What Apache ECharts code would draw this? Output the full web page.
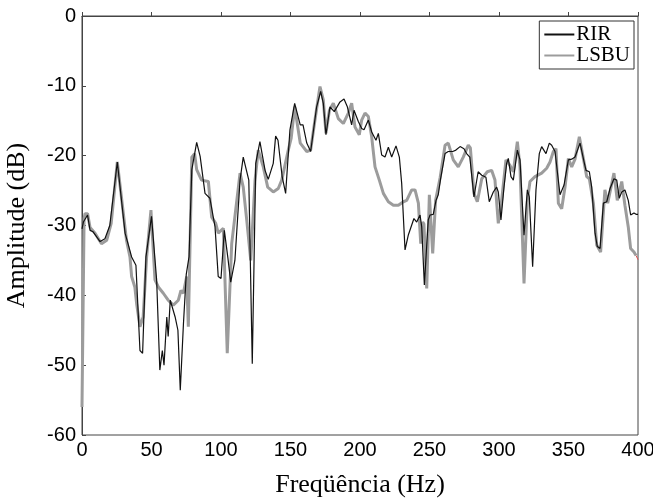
<!DOCTYPE html>
<html>
<head>
<meta charset="utf-8">
<script src="https://cdn.jsdelivr.net/npm/echarts@6/dist/echarts.min.js"></script>
<style>
  html, body { margin: 0; padding: 0; background: #fff; }
  #chart { width: 653px; height: 500px; }
</style>
</head>
<body>
<div id="chart"></div>
<script>
// 频率 / 幅值数据
var rirFreq = [0, 1, 4, 5.8, 8, 13, 16.5, 20, 25.4, 31, 35.7, 38.8, 41.7, 43.6, 46, 50, 53.7, 56, 57.8, 59,
  61, 62, 63.5, 67, 69, 70.7, 73, 75, 77, 79, 82.5, 85, 88.5, 92, 95.7, 98, 100, 102.4, 105, 107,
  110, 113.7, 116, 117, 120, 122.5, 125, 128, 131.7, 134, 137.6, 139.3, 141, 144, 146.5, 149.6, 153, 157, 159, 161.7,
  164.5, 168.8, 171.7, 173.6, 175.5, 178.4, 181.5, 185.6, 188.5, 190.9, 194, 195.7, 198.8, 201.2, 202.9, 206, 208.4, 211.5, 213.2, 215.6,
  218, 220.4, 222.8, 225.9, 228.3, 230, 232.4, 234.7, 238.8, 240.8, 243.2, 244.4, 246.3, 249.1, 250.4, 252.7, 254.7, 256.3, 258, 261.2,
  263.5, 266.7, 269, 272, 274.8, 276.7, 279, 282, 285, 287.6, 290.6, 293, 295.9, 298.3, 299.5, 301.4, 303.6, 305.5, 306.7, 308.6,
  310.3, 313.2, 315.1, 318, 320.4, 321.8, 324.2, 326.6, 329, 330.7, 333.8, 336.2, 337.9, 340.3, 343.9, 346.8, 349.9, 352.3, 354.7, 358.3,
  361.2, 362.6, 365, 366.7, 369.1, 370.7, 372.7, 375.1, 377.5, 379.9, 382.7, 384.7, 386.5, 388.3, 390.6, 393, 394.7, 397.1, 398.6, 400];
var rirAmp = [-30.5, -29.5, -28.5, -30.7, -30.9, -32.3, -31.9, -30, -20.9, -31.1, -34.5, -35.7, -47.9, -48.3, -34.5, -28.7, -37.8, -50.7, -47.9, -50,
  -43.1, -45.9, -40.7, -43.1, -45, -53.6, -44, -37, -34.5, -22, -18.1, -20.1, -25.4, -26.1, -30.2, -37.3, -37.6, -30.7, -34.7, -38.1,
  -35, -23.5, -20.2, -20, -23.5, -49.8, -21.1, -18, -22.1, -23.4, -21.1, -17.2, -17.8, -23, -25.4, -16.3, -12.5, -15.6, -15.6, -18.2,
  -19.4, -13, -10.8, -12.5, -17, -13, -13.7, -12.3, -11.9, -13, -15.6, -13.5, -15.1, -16.1, -16.3, -14.9, -16.6, -17.8, -16.8, -19.9,
  -20.2, -18.8, -20.2, -18.6, -20.2, -24, -33.5, -31.4, -29, -29.5, -28.5, -30.2, -38.5, -29.2, -28.5, -28.4, -26.4, -25.6, -23.3, -19.7,
  -19.4, -19.4, -19.2, -18.7, -19, -19.7, -20.2, -25.9, -22.3, -22.8, -23.1, -26.6, -25.2, -24.5, -25.2, -29.2, -24.5, -21.1, -20.4, -23,
  -23.5, -19.2, -20.6, -31.4, -24.9, -25.9, -35.9, -24.9, -19.7, -18.7, -19.7, -18.2, -18.5, -19.4, -25.6, -24.2, -20.6, -20.5, -20.2, -18.2,
  -20.9, -22.1, -22.3, -24.5, -31.1, -33, -33.3, -26.8, -26.6, -24.7, -23.3, -23.5, -26.1, -25.2, -24.9, -26.4, -28.5, -28.2, -28.4, -28.4];

var lsbuFreq = [0, 1.5, 2.2, 4, 5.8, 9.4, 14, 17.8, 21, 25.4, 32, 34.5, 35.7, 38, 39.3, 41.7, 44, 46.5, 49.6, 52.5,
  54.9, 58.5, 62, 65.7, 69.3, 71.2, 72.9, 75.3, 76.5, 77.7, 79, 81, 82.5, 86, 90.9, 93.3, 96.2, 98, 101.7, 104.5,
  107.7, 113.7, 116, 118.5, 121.4, 124.5, 126.8, 130.4, 133.6, 137.6, 141.2, 143.7, 148.4, 150.5, 153, 157, 161.7, 164.5, 167.6, 171.2,
  173.6, 175.5, 178, 180.8, 184.4, 188, 191.6, 194, 196.4, 199.5, 201.2, 203.6, 206, 208.4, 210.8, 213.9, 216.8, 220.4, 224, 227.6,
  231.2, 233.6, 237.2, 239.6, 242, 243.7, 245.1, 246, 248, 249.9, 252.3, 254.4, 257.7, 261.2, 263.5, 267.1, 270.7, 274.3, 277.9, 279.4,
  282, 284.4, 287.6, 291.6, 294.7, 297.1, 299.5, 301.9, 305, 307.9, 310.3, 313.2, 315.1, 318, 320.4, 322.3, 325.9, 330.7, 334.3, 336.7,
  339.1, 341, 342.7, 345.1, 347.5, 349.9, 352.3, 354.7, 357.8, 360.7, 363.1, 365, 367.9, 370.3, 373.1, 376.2, 378.2, 382.7, 385.1, 388.3,
  390.6, 393, 394.7, 397.1, 398.6];
var lsbuAmp = [-56, -29, -28.3, -28.3, -30.3, -31.1, -32.6, -32.1, -29.7, -20.9, -32.1, -34.5, -37.3, -38.8, -41.2, -44.5, -43.1, -34.5, -27.8, -37.8,
  -38.8, -39.7, -40.7, -41.4, -40.7, -39.3, -39.7, -37.3, -44.5, -33, -20.2, -19.7, -22, -23.5, -23.7, -28.8, -29.7, -31.1, -30.4, -48.3,
  -32.6, -22.5, -24.5, -29.2, -35, -23.5, -19.2, -21.6, -24.5, -25.2, -24.7, -23.5, -19.2, -17.5, -13, -18.2, -19.4, -19.2, -14.9, -10.1,
  -12, -16.8, -13.5, -12.5, -14.7, -15.4, -13.9, -12.5, -15.9, -17, -14.9, -13.9, -14.4, -17.3, -21.6, -23.5, -25.4, -26.6, -27.1, -27.1,
  -26.6, -26.4, -24.9, -24.9, -26.8, -32.6, -29.5, -29.8, -39, -25.6, -34, -26.4, -23.1, -18.5, -18.2, -20.6, -21.6, -20.2, -18.5, -18.9,
  -25.4, -26.6, -23.3, -22.3, -22.1, -23.5, -29.7, -26.4, -20.6, -21.4, -22.3, -18, -21.6, -38.3, -26.4, -23.7, -23, -22.5, -21.8, -20.9,
  -19.4, -19, -26.8, -27.6, -24.5, -20.4, -21.6, -20.5, -17.3, -20.4, -23, -23.3, -26.8, -32.8, -33.8, -24.9, -26.8, -22.5, -26.4, -23.7,
  -27.1, -30.2, -33.3, -33.8, -34.3];

// 末端的小红线段
var tipFreq = [398.6, 400];
var tipAmp = [-34.3, -34.9];

var xTicks = [0, 50, 100, 150, 200, 250, 300, 350, 400];
var yTicks = [-60, -50, -40, -30, -20, -10, 0];

function pairs(xs, ys) {
  return xs.map(function (x, i) { return [x, ys[i]]; });
}

var myChart = echarts.init(document.getElementById('chart'));
myChart.setOption({
  animation: false,
  grid: {
    left: 82, right: 15, top: 16, bottom: 65,
    outerBoundsMode: 'none', containLabel: false,
    show: true, borderColor: '#444', borderWidth: 1
  },
  legend: {
    data: ['RIR', 'LSBU'],
    orient: 'vertical',
    right: 19, top: 21,
    itemWidth: 30, itemHeight: 14, itemGap: 0,
    padding: [3, 4, 3, 4],
    borderColor: '#333', borderWidth: 1, borderRadius: 0,
    backgroundColor: '#fff',
    itemStyle: { opacity: 0 },
    textStyle: { fontFamily: 'Liberation Serif', fontSize: 21, lineHeight: 17, color: '#000', padding: [0, 0, 0, -3] }
  },
  xAxis: {
    type: 'value', min: 0, max: 400, interval: 50,
    name: 'Freqüência (Hz)', nameLocation: 'middle', nameGap: 37,
    nameTextStyle: { fontFamily: 'Liberation Serif', fontSize: 26, color: '#000' },
    axisLine: { lineStyle: { color: '#444', width: 1 } },
    axisTick: { inside: true, length: 4, lineStyle: { color: '#444' } },
    axisLabel: { fontFamily: 'Liberation Sans', fontSize: 20, color: '#000', margin: 5,
      formatter: function (v) { return xTicks.indexOf(v) >= 0 ? String(v) : ''; } },
    splitLine: { show: false }
  },
  yAxis: {
    type: 'value', min: -60, max: 0, interval: 10,
    name: 'Amplitude (dB)', nameLocation: 'middle', nameGap: 52,
    nameTextStyle: { fontFamily: 'Liberation Serif', fontSize: 26, color: '#000' },
    axisLine: { show: true, lineStyle: { color: '#444', width: 1 } },
    axisTick: { show: true, inside: true, length: 4, lineStyle: { color: '#444' } },
    axisLabel: { fontFamily: 'Liberation Sans', fontSize: 20, color: '#000', margin: 6,
      formatter: function (v) { return yTicks.indexOf(v) >= 0 ? String(v) : ''; } },
    splitLine: { show: false }
  },
  series: [
    {
      name: 'LSBU', type: 'line', z: 2,
      data: pairs(lsbuFreq, lsbuAmp),
      symbol: 'none', color: '#9c9c9c',
      lineStyle: { color: '#9c9c9c', width: 3 }
    },
    {
      name: 'RIR', type: 'line', z: 3,
      data: pairs(rirFreq, rirAmp),
      symbol: 'none', color: '#111',
      lineStyle: { color: '#111', width: 1.2 }
    },
    {
      name: 'tip', type: 'line', z: 4,
      data: pairs(tipFreq, tipAmp),
      symbol: 'none', color: '#e05050',
      lineStyle: { color: '#e05050', width: 1 }
    }
  ]
});
</script>
</body>
</html>
